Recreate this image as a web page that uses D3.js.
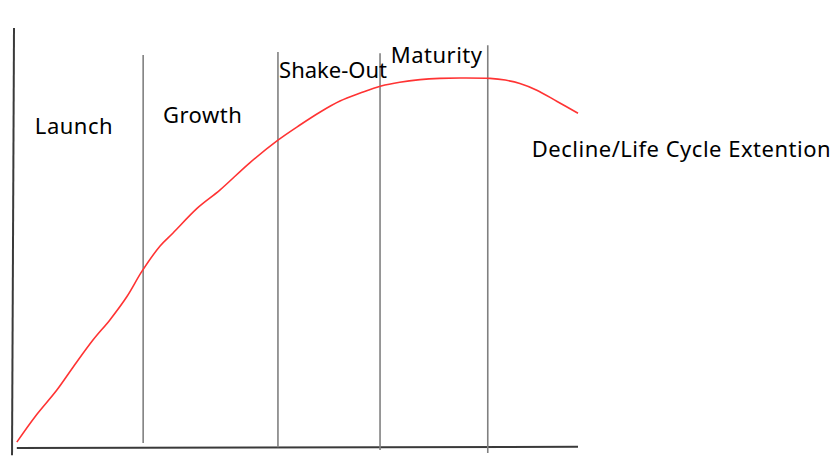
<!DOCTYPE html>
<html>
<head>
<meta charset="utf-8">
<script src="https://cdn.jsdelivr.net/npm/d3@7"></script>
<style>
  html, body { margin: 0; padding: 0; background: #fff; }
  svg { display: block; }
  text { font-family: "Noto Sans", "Open Sans", sans-serif; fill: #000; }
</style>
</head>
<body>
<svg id="chart" width="837" height="462"></svg>
<script>
// Product life cycle curve (time 0-100, sales 0-100)
const curveTime  = [0.5, 3.7, 7.6, 10.5, 14.0, 17.0, 20.0, 22.7, 25.9, 28.2, 32.5, 36.5, 41.8, 46.8, 50.7, 54.3, 57.8, 61.4, 65.1, 68.4, 72.0, 75.5, 79.1, 84.4, 87.1, 89.7, 92.7, 96.3, 100.0];
const curveSales = [1.4, 7.4, 13.8, 19.3, 25.7, 30.5, 36.0, 42.1, 48.1, 51.2, 57.1, 61.4, 67.9, 73.3, 76.9, 80.0, 82.6, 84.5, 86.2, 87.1, 87.7, 88.0, 88.1, 88.0, 87.6, 86.8, 85.2, 82.5, 79.7];

// Phase boundaries (time) and the extent of each divider line (sales units)
const dividerTime   = [22.9, 46.8, 64.9, 84.0];
const dividerTop    = [93.6, 94.3, 94.0, 95.9];
const dividerBottom = [1.2, 0.2, -0.5, -1.2];

// Phase labels and their anchor points (time, sales units)
const phaseLabels = ["Launch", "Growth", "Shake-Out", "Maturity", "Decline/Life Cycle Extention"];
const labelTime   = [3.7, 26.4, 47.0, 66.8, 91.8];
const labelSales  = [74.8, 77.4, 88.1, 91.7, 69.3];

const W = 837, H = 462;
const svg = d3.select("#chart");

const x = d3.scaleLinear().domain([0, 100]).range([14, 578]);
const y = d3.scaleLinear().domain([0, 100]).range([448, 28]);

// axes (hand-drawn style lines)
svg.append("line")
  .attr("x1", x(0)).attr("y1", y(100))
  .attr("x2", x(-0.35)).attr("y2", y(-1.7))
  .attr("stroke", "#3a3a3a").attr("stroke-width", 2);
svg.append("line")
  .attr("x1", x(0.5)).attr("y1", y(0))
  .attr("x2", x(100)).attr("y2", y(0.3))
  .attr("stroke", "#3a3a3a").attr("stroke-width", 2);

// phase dividers
svg.selectAll("line.div")
  .data(dividerTime)
  .join("line")
  .attr("class", "div")
  .attr("x1", d => x(d)).attr("x2", d => x(d))
  .attr("y1", (d, i) => y(dividerTop[i]))
  .attr("y2", (d, i) => y(dividerBottom[i]))
  .attr("stroke", "#808080").attr("stroke-width", 1.6);

// curve
const pts = curveTime.map((t, i) => [t, curveSales[i]]);
svg.append("path")
  .datum(pts)
  .attr("fill", "none")
  .attr("stroke", "#ff3333")
  .attr("stroke-width", 1.6)
  .attr("d", d3.line().x(d => x(d[0])).y(d => y(d[1])).curve(d3.curveCatmullRom));

// labels
svg.selectAll("text.phase")
  .data(phaseLabels)
  .join("text")
  .attr("class", "phase")
  .attr("x", (d, i) => x(labelTime[i]))
  .attr("y", (d, i) => y(labelSales[i]))
  .attr("font-size", 22)
  .attr("letter-spacing", d => d === "Shake-Out" ? 0 : 0.5)
  .text(d => d);
</script>
</body>
</html>
